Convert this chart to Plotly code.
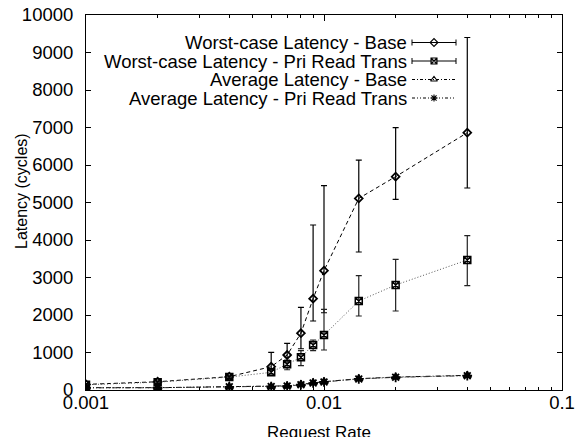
import plotly.graph_objects as go

# ---- data ----
request_rate = [0.001, 0.002, 0.004, 0.006, 0.007, 0.008, 0.009, 0.01, 0.014, 0.02, 0.04]

wc_base = [150, 220, 356, 622, 933, 1515, 2436, 3183, 5110, 5690, 6862]
wc_base_hi = [170, 240, 380, 1004, 1244, 2204, 4400, 5449, 6130, 6995, 9400]
wc_base_lo = [135, 205, 335, 520, 780, 1100, 1840, 2060, 3680, 5085, 5387]

wc_pri = [140, 210, 345, 471, 690, 871, 1200, 1467, 2373, 2800, 3467]
wc_pri_hi = [160, 230, 370, 530, 800, 1050, 1333, 2150, 3049, 3484, 4115]
wc_pri_lo = [125, 195, 325, 420, 540, 649, 1049, 1067, 1973, 2107, 2782]

avg_base = [62, 62, 89, 95, 110, 151, 196, 222, 302, 345, 390]
avg_pri = [58, 60, 85, 90, 105, 140, 185, 215, 295, 338, 382]

series_names = [
    "Worst-case Latency - Base",
    "Worst-case Latency - Pri Read Trans",
    "Average Latency - Base",
    "Average Latency - Pri Read Trans",
]
x_tick_vals = [0.001, 0.01, 0.1]
x_tick_text = ["0.001", "0.01", "0.1"]
y_tick_vals = list(range(0, 10001, 1000))
y_tick_text = [str(v) for v in y_tick_vals]

FONT = "Liberation Sans, Arial, Helvetica, sans-serif"
FS = 18.5

fig = go.Figure()

def err(v, hi, lo):
    return dict(type="data", symmetric=False,
                array=[h - a for a, h in zip(v, hi)],
                arrayminus=[a - l for a, l in zip(v, lo)])

fig.add_trace(go.Scatter(
    x=request_rate, y=wc_base, mode="lines+markers", name=series_names[0],
    line=dict(color="black", width=1, dash="4px,3px"),
    marker=dict(symbol="diamond-open", size=6, color="black", line=dict(width=1.8)),
    error_y=dict(**err(wc_base, wc_base_hi, wc_base_lo), color="black", thickness=1.2, width=3),
    showlegend=False))

fig.add_trace(go.Scatter(
    x=request_rate, y=wc_pri, mode="lines+markers", name=series_names[1],
    line=dict(color="#555555", width=1, dash="1px,2px"),
    marker=dict(symbol="square-x-open", size=7, color="black", line=dict(width=1.5)),
    error_y=dict(**err(wc_pri, wc_pri_hi, wc_pri_lo), color="#222222", thickness=1.2, width=3),
    showlegend=False))

fig.add_trace(go.Scatter(
    x=request_rate, y=avg_base, mode="lines+markers", name=series_names[2],
    line=dict(color="black", width=1, dash="5px,2px,1px,2px"),
    marker=dict(symbol="triangle-up-open", size=7, color="black", line=dict(width=1.6)),
    showlegend=False))

fig.add_trace(go.Scatter(
    x=request_rate, y=avg_pri, mode="lines+markers", name=series_names[3],
    line=dict(color="#333333", width=1, dash="5px,2px,1px,2px,1px,2px"),
    marker=dict(symbol="asterisk-open", size=8, color="black", line=dict(width=1.8)),
    showlegend=False))

# ---- custom gnuplot-style key on a pixel overlay axis ----
key_rows = [42.5, 61, 79.5, 98]
key_text_right = 408
key_x0, key_xm, key_x1 = 412, 434, 456
key_symbols = ["diamond-open", "square-x-open", "triangle-up-open", "asterisk-open"]
key_dash = ["solid", "solid", "3px,2px,1px,2px", "3px,2px,1px,2px,1px,2px"]
key_err = [True, True, False, False]

for name, ry, sym, dsh, has_err in zip(series_names, key_rows, key_symbols, key_dash, key_err):
    tr = dict(x=[key_x0, key_x1], y=[ry, ry], mode="lines", xaxis="x2", yaxis="y2",
              line=dict(color="black", width=1, dash=dsh), showlegend=False, hoverinfo="skip")
    if has_err:
        tr["error_y"] = dict(type="data", array=[3, 3], color="black", thickness=1, width=0)
    fig.add_trace(go.Scatter(**tr))
    fig.add_trace(go.Scatter(x=[key_xm], y=[ry], mode="markers", xaxis="x2", yaxis="y2",
                             marker=dict(symbol=sym, size=6, color="black", line=dict(width=1.1)),
                             showlegend=False, hoverinfo="skip"))
    fig.add_annotation(x=key_text_right, y=ry, xref="x2", yref="y2", text=name,
                       showarrow=False, xanchor="right", yanchor="middle", borderpad=0,
                       font=dict(family=FONT, size=FS, color="black"))

# axis titles
fig.add_annotation(x=0.49, y=-0.085, xref="paper", yref="paper", text="Request Rate",
                   showarrow=False, xanchor="center", yanchor="top", borderpad=0,
                   font=dict(family=FONT, size=17, color="black"))
fig.add_annotation(x=-0.135, y=0.53, xref="paper", yref="paper", text="Latency (cycles)",
                   showarrow=False, xanchor="center", yanchor="middle", textangle=-90,
                   font=dict(family=FONT, size=16, color="black"))

minor_vals = [m * d for d in (0.001, 0.01) for m in range(2, 10)]

fig.update_layout(
    width=577, height=437,
    margin=dict(l=86, r=15, t=15, b=47),
    paper_bgcolor="white", plot_bgcolor="white",
    font=dict(family=FONT, size=FS, color="black"),
    xaxis=dict(type="log", range=[-3, -1], tickmode="array", tickvals=x_tick_vals,
               ticktext=x_tick_text, ticks="inside", ticklen=6, tickwidth=1, tickcolor="black",
               showline=True, linecolor="black", linewidth=1, mirror="ticks",
               showgrid=False, zeroline=False, ticklabelstandoff=-4, automargin=False,
               minor=dict(ticks="inside", ticklen=3, tickwidth=1, tickcolor="black",
                          tickmode="array", tickvals=minor_vals, showgrid=False),
               tickfont=dict(family=FONT, size=FS, color="black")),
    yaxis=dict(range=[0, 10000], tickmode="array", tickvals=y_tick_vals, ticktext=y_tick_text,
               ticks="inside", ticklen=5, tickwidth=1, tickcolor="black",
               showline=True, linecolor="black", linewidth=1, mirror="ticks",
               showgrid=False, zeroline=False, ticklabelstandoff=8, automargin=False,
               tickfont=dict(family=FONT, size=FS, color="black")),
    xaxis2=dict(range=[86, 562], overlaying="x", anchor="y2", visible=False, fixedrange=True),
    yaxis2=dict(range=[390, 15], overlaying="y", anchor="x2", visible=False, fixedrange=True),
    showlegend=False,
)

fig.write_html("out.html")
